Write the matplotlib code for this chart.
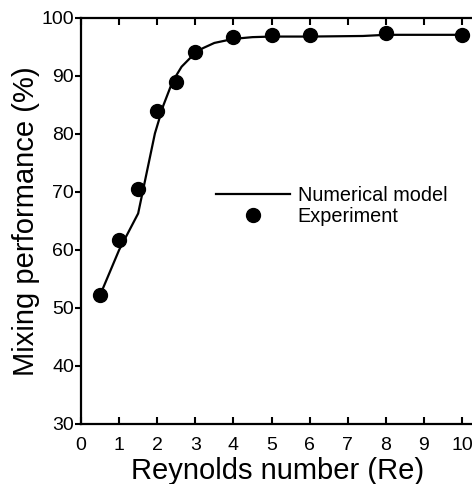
import matplotlib
matplotlib.use("Agg")
import matplotlib.pyplot as plt

plt.rcParams['font.family'] = ['Liberation Sans', 'DejaVu Sans']

# Experimental data
re_exp = [0.5, 1, 1.5, 2, 2.5, 3, 4, 5, 6, 8, 10]
mix_exp = [52.2, 61.8, 70.5, 84.0, 89.0, 94.2, 96.7, 97.1, 97.0, 97.5, 97.1]

# Numerical model curve
re_model = [0.5, 1.0, 1.5, 1.72, 1.94, 2.16, 2.4, 2.64, 3.0, 3.2, 3.5, 4.0, 4.5, 5.0, 6.0, 7.4, 8.0, 10.0]
mix_model = [52.2, 60.0, 66.3, 73.2, 80.1, 84.9, 89.0, 91.6, 94.0, 94.8, 95.7, 96.4, 96.7, 96.8, 96.8, 96.9, 97.1, 97.1]

xticks = list(range(0, 11))
yticks = [30, 40, 50, 60, 70, 80, 90, 100]

W, H = 472, 484
fig = plt.figure(figsize=(W / 100, H / 100), dpi=100)
left, bottom = 81 / W, 1 - 424 / H
top = 1 - 18 / H
xmax = 10.3
right_px = 81 + xmax * 38.1
ax = fig.add_axes([left, bottom, (right_px - 81) / W, top - bottom])

ax.plot(re_model, mix_model, color='black', lw=1.6, label='Numerical model')
ax.plot(re_exp, mix_exp, 'o', color='black', ms=10, label='Experiment')

ax.set_xlim(0, xmax)
ax.set_ylim(30, 100)
ax.set_xticks(xticks)
ax.set_yticks(yticks)
ax.spines['right'].set_visible(False)
for s in ['left', 'bottom', 'top']:
    ax.spines[s].set_linewidth(1.6)

ax.tick_params(axis='x', direction='in', top=True, length=5, width=1.5, labelsize=14, pad=9.5)
ax.tick_params(axis='y', direction='out', length=4.3, width=1.5, labelsize=14, pad=0.8)

ax.set_xlabel('Reynolds number (Re)', fontsize=21, labelpad=2)
ax.set_ylabel('Mixing performance (%)', fontsize=21, labelpad=1.2)

leg = ax.legend(loc='upper left', bbox_to_anchor=((224 - 81) / (right_px - 81) - 0.02, (424 - 186) / 406),
                frameon=False, fontsize=14.3, handlelength=3.7, handletextpad=0.4,
                labelspacing=0.12, borderaxespad=0, borderpad=0)

fig.savefig('out.png', dpi=100)
